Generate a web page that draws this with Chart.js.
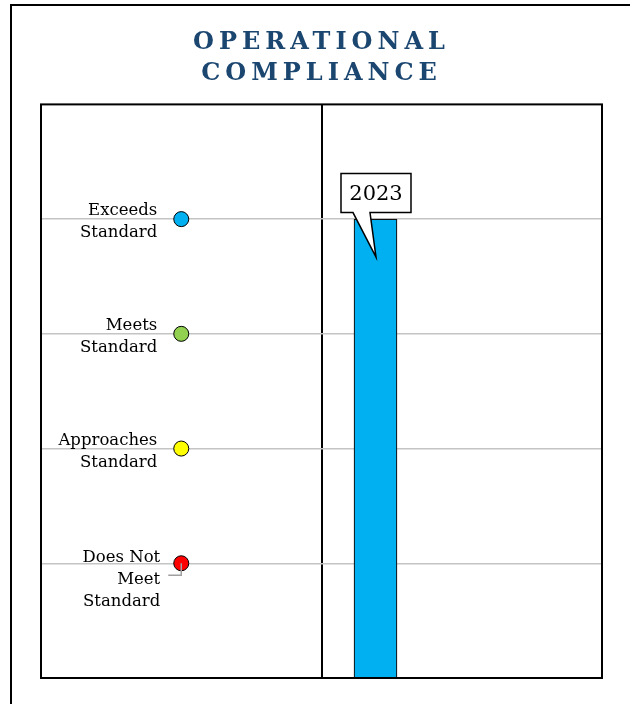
<!DOCTYPE html>
<html><head><meta charset="utf-8">
<script src="https://cdn.jsdelivr.net/npm/chart.js@4"></script>
<style>
html,body{margin:0;padding:0;background:#fff;overflow:hidden;width:630px;height:704px;}
#frame{position:absolute;left:10px;top:4px;width:700px;height:800px;border:2px solid #000;}
#wrap{position:absolute;left:0;top:0;width:630px;height:704px;}
</style></head><body>
<div id="frame"></div>
<div id="wrap"><canvas id="c" width="630" height="704"></canvas></div>
<script>
// ---- data ----
const levels = ['Exceeds Standard', 'Meets Standard', 'Approaches Standard', 'Does Not Meet Standard'];
const levelScores = [4, 3, 2, 1];
const levelColors = ['#00b0f0', '#92d050', '#ffff00', '#ff0000'];
const levelLabelLines = [['Exceeds', 'Standard'], ['Meets', 'Standard'], ['Approaches', 'Standard'], ['Does Not', 'Meet', 'Standard']];
const years = ['2023'];
const yearScores = [4];
const yTicks = [0, 1, 2, 3, 4, 5];
const titleLines = ['OPERATIONAL', 'COMPLIANCE'];

// ---- layout constants (panel placement on the x scale) ----
const LEVEL_X = 0.5;     // centre of the left (levels) panel
const YEAR_X = 1.1925;   // placement of the year bar in the right panel
const SERIF = '"DejaVu Serif", serif';

const titleSpacing = {
  id: 'titleSpacing',
  beforeDraw(chart) { chart.ctx.letterSpacing = '5px'; },
  beforeDatasetsDraw(chart) { chart.ctx.letterSpacing = '0px'; }
};

const levelLabels = {
  id: 'levelLabels',
  afterDatasetsDraw(chart) {
    const ctx = chart.ctx;
    const meta = chart.getDatasetMeta(1);
    ctx.save();
    ctx.letterSpacing = '0px';
    ctx.font = '16.5px ' + SERIF;
    ctx.fillStyle = '#000';
    ctx.textAlign = 'right';
    ctx.textBaseline = 'middle';
    meta.data.forEach((pt, i) => {
      const lines = levelLabelLines[i];
      const lh = 22;
      let rightX = pt.x - 24, cy = pt.y + 3;
      if (lines.length > 2) {
        rightX = pt.x - 21; cy = pt.y + 16;
        ctx.strokeStyle = '#a0a0a0';
        ctx.lineWidth = 1.5;
        ctx.beginPath();
        ctx.moveTo(pt.x, pt.y);
        ctx.lineTo(pt.x, pt.y + 12);
        ctx.lineTo(pt.x - 13, pt.y + 12);
        ctx.stroke();
      }
      const top = cy - (lines.length - 1) * lh / 2;
      lines.forEach((t, k) => ctx.fillText(t, rightX, top + k * lh));
    });
    ctx.restore();
  }
};

const yearCallout = {
  id: 'yearCallout',
  afterDatasetsDraw(chart) {
    const ctx = chart.ctx;
    const meta = chart.getDatasetMeta(0);
    meta.data.forEach((bar, i) => {
      const cx = bar.x, bw = 70, bh = 39;
      const bottom = bar.y - 6.5, top = bottom - bh;
      const left = cx - bw / 2 + 0.5, right = left + bw;
      ctx.save();
      ctx.letterSpacing = '0px';
      ctx.beginPath();
      ctx.moveTo(left, top);
      ctx.lineTo(right, top);
      ctx.lineTo(right, bottom);
      ctx.lineTo(cx - 5.5, bottom);
      ctx.lineTo(cx + 0.5, bar.y + 38);
      ctx.lineTo(cx - 22.5, bottom);
      ctx.lineTo(left, bottom);
      ctx.closePath();
      ctx.fillStyle = '#fff';
      ctx.fill();
      ctx.strokeStyle = '#000';
      ctx.lineWidth = 1.5;
      ctx.stroke();
      ctx.fillStyle = '#000';
      ctx.font = '21px ' + SERIF;
      ctx.textAlign = 'center';
      ctx.textBaseline = 'middle';
      ctx.fillText(years[i], cx + 0.5, top + bh / 2 + 1);
      ctx.restore();
    });
  }
};

const frame = {
  id: 'frame',
  afterDatasetsDraw(chart) {
    const { ctx, chartArea: a } = chart;
    ctx.save();
    ctx.strokeStyle = '#000';
    ctx.lineWidth = 2;
    ctx.strokeRect(a.left, a.top, a.right - a.left, a.bottom - a.top);
    ctx.restore();
  }
};

new Chart(document.getElementById('c'), {
  type: 'bar',
  data: {
    datasets: [
      {
        type: 'bar',
        label: years[0],
        data: years.map((y, i) => ({ x: YEAR_X, y: yearScores[i] })),
        backgroundColor: '#00b0f0',
        borderColor: '#111',
        borderWidth: 1.2,
        barThickness: 43
      },
      {
        type: 'scatter',
        label: 'Levels',
        data: levelScores.map(s => ({ x: LEVEL_X, y: s })),
        pointRadius: 7.5,
        pointHoverRadius: 7.5,
        backgroundColor: levelColors,
        borderColor: '#000',
        borderWidth: 1
      }
    ]
  },
  options: {
    responsive: false,
    animation: false,
    devicePixelRatio: 1,
    layout: { padding: { left: 41, right: 28, top: 0, bottom: 26 } },
    plugins: {
      legend: { display: false },
      tooltip: { enabled: false },
      title: {
        display: true,
        fullSize: false,
        text: titleLines,
        color: '#1b4670',
        font: { family: SERIF, size: 24, weight: 'bold', lineHeight: 1.3 },
        padding: { top: 27, bottom: 15 }
      }
    },
    scales: {
      x: {
        type: 'linear', min: 0, max: 2, offset: false, z: 1,
        ticks: { display: false, stepSize: 1 },
        grid: {
          drawTicks: false, lineWidth: 2, offset: false,
          color: c => (c.tick && c.tick.value === 1) ? '#000' : 'rgba(0,0,0,0)'
        },
        border: { display: false },
        afterFit: s => { s.height = 0; }
      },
      y: {
        type: 'linear', min: yTicks[0], max: yTicks[yTicks.length - 1],
        ticks: { display: false, stepSize: 1 },
        grid: {
          drawTicks: false, lineWidth: 1.5,
          color: c => (c.tick && (c.tick.value === 0 || c.tick.value === 5)) ? 'rgba(0,0,0,0)' : '#c4c4c4'
        },
        border: { display: false },
        afterFit: s => { s.width = 0; }
      }
    }
  },
  plugins: [titleSpacing, levelLabels, yearCallout, frame]
});
</script>
</body></html>
